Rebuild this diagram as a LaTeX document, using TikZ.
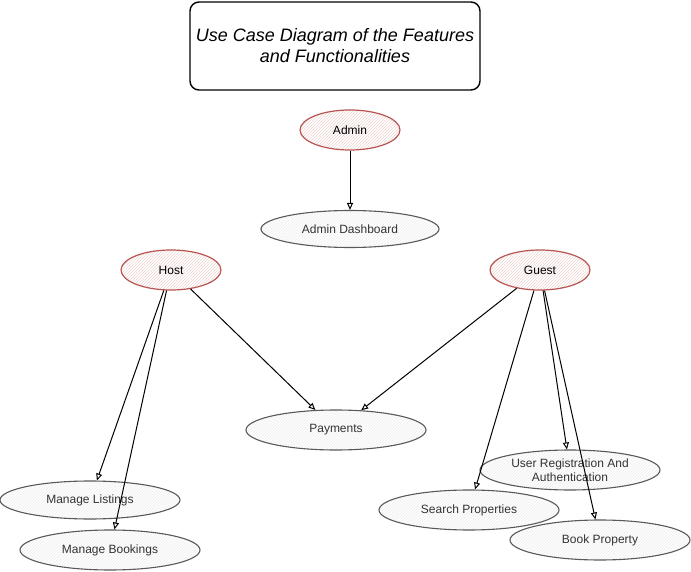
\documentclass[tikz,border=0pt]{standalone}
\usepackage{fontspec}
\setmainfont{Liberation Sans}
\usetikzlibrary{arrows.meta,shapes.geometric,patterns,positioning}

\definecolor{actred}{HTML}{B85450}
\definecolor{txtgray}{HTML}{333333}

\begin{document}
\begin{tikzpicture}[x=1pt,y=-1pt,
  every node/.style={inner sep=0pt,font=\fontsize{12}{14}\selectfont,text=txtgray},
  actor/.style={ellipse,draw=actred,line width=1.2pt,minimum width=100pt,minimum height=40pt,
    pattern=north east lines,pattern color=actred!25,text=black},
  usecase/.style={ellipse,draw=black!65,line width=1.1pt,minimum width=180pt,minimum height=40pt,
    pattern=north east lines,pattern color=black!8,align=center},
  link/.style={-{Triangle[open,length=7pt,width=6pt]},line width=1pt,black}]

 \useasboundingbox (0,0) rectangle (691,572);

 \node[draw,rounded corners=9pt,line width=1.4pt,minimum width=290pt,minimum height=88pt,
   align=center,text=black,font=\fontsize{18}{21}\selectfont\itshape] (title) at (335,46)
   {Use Case Diagram of the Features\\and Functionalities};

 \node[actor] (admin) at (350,130) {Admin};
 \node[actor] (host) at (171,270) {Host};
 \node[actor] (guest) at (540,270) {Guest};

 \node[usecase,minimum width=178pt,minimum height=37pt] (dash) at (350,229) {Admin Dashboard};
 \node[usecase] (pay) at (336,430) {Payments};
 \node[usecase,minimum height=38pt] (mlist) at (90,500) {Manage Listings};
 \node[usecase] (mbook) at (110,550) {Manage Bookings};
 \node[usecase] (reg) at (570,470) {User Registration And\\Authentication};
 \node[usecase] (search) at (469,510) {Search Properties};
 \node[usecase] (book) at (600,540) {Book Property};

\foreach \f/\t in {admin/dash,host/mlist,host/mbook,host/pay,guest/pay,guest/search,guest/reg,guest/book}
 \draw[link] (\f) -- (\t);
\end{tikzpicture}
\end{document}
